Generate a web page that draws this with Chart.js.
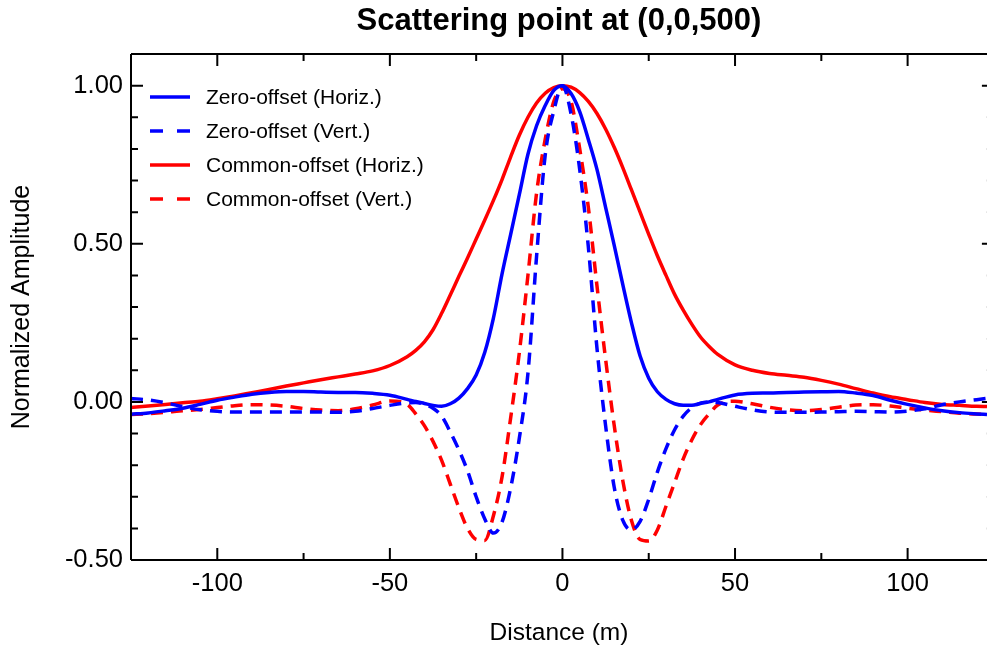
<!DOCTYPE html>
<html>
<head>
<meta charset="utf-8">
<script src="https://cdn.jsdelivr.net/npm/chart.js@4/dist/chart.umd.min.js"></script>
<style>
  html, body { margin: 0; padding: 0; background: #fff; overflow: hidden; }
  canvas { display: block; }
</style>
</head>
<body>
<canvas id="chart" width="987" height="650"></canvas>
<script>
const FONT = '"Liberation Sans", Arial, Helvetica, sans-serif';

// distance (m)
const distance = [
  -125, -120, -115, -110, -105, -100, -95, -90, -85, -80, -75, -70, -65, -60, -55, -50,
  -45, -42.5, -40, -37.5, -35, -32.5, -30, -27.5, -25, -22.5, -20, -17.5, -15, -12.5, -10, -7.5, -5, -2.5,
  0, 2.5, 5, 7.5, 10, 12.5, 15, 17.5, 20, 22.5, 25, 27.5, 30, 32.5, 35, 37.5, 40, 42.5, 45,
  50, 55, 60, 65, 70, 75, 80, 85, 90, 95, 100, 105, 110, 115, 120, 123,
];

const zoHoriz = [
  -0.039, -0.035, -0.028, -0.020, -0.008, 0.005, 0.015, 0.024, 0.030, 0.033, 0.033, 0.031, 0.030, 0.030, 0.027, 0.021,
  0.008, 0.001, -0.005, -0.011, -0.014, -0.006, 0.012, 0.042, 0.085, 0.157, 0.265, 0.405, 0.530, 0.655, 0.783, 0.873, 0.937, 0.985,
  1.000, 0.975, 0.918, 0.830, 0.735, 0.615, 0.495, 0.370, 0.250, 0.145, 0.075, 0.032, 0.008, -0.006, -0.011, -0.011, -0.005, 0.000, 0.008,
  0.022, 0.027, 0.028, 0.030, 0.031, 0.032, 0.033, 0.028, 0.020, 0.005, -0.008, -0.019, -0.028, -0.034, -0.038, -0.040,
];

const zoVert = [
  0.011, 0.006, -0.003, -0.015, -0.025, -0.030, -0.032, -0.032, -0.032, -0.032, -0.032, -0.032, -0.033, -0.030, -0.021, -0.011,
  -0.003, -0.002, -0.008, -0.020, -0.045, -0.095, -0.152, -0.218, -0.300, -0.370, -0.415, -0.380, -0.272, -0.115, 0.090, 0.460, 0.780, 0.920,
  1.000, 0.910, 0.735, 0.490, 0.170, -0.075, -0.270, -0.375, -0.405, -0.378, -0.308, -0.222, -0.148, -0.088, -0.045, -0.018, -0.004, 0.000, -0.002,
  -0.014, -0.025, -0.032, -0.033, -0.033, -0.032, -0.031, -0.030, -0.031, -0.032, -0.029, -0.022, -0.009, 0.000, 0.007, 0.011,
];

const coHoriz = [
  -0.018, -0.013, -0.008, -0.003, 0.002, 0.010, 0.019, 0.029, 0.039, 0.050, 0.060, 0.070, 0.079, 0.088, 0.098, 0.115,
  0.143, 0.163, 0.190, 0.228, 0.280, 0.338, 0.397, 0.455, 0.515, 0.575, 0.637, 0.703, 0.775, 0.843, 0.900, 0.945, 0.976, 0.994,
  1.000, 0.995, 0.978, 0.950, 0.912, 0.863, 0.805, 0.740, 0.670, 0.600, 0.530, 0.462, 0.400, 0.340, 0.290, 0.245, 0.205, 0.175, 0.150,
  0.117, 0.100, 0.090, 0.084, 0.078, 0.068, 0.056, 0.042, 0.028, 0.016, 0.007, -0.002, -0.008, -0.011, -0.014, -0.015,
];

const coVert = [
  -0.040, -0.037, -0.033, -0.028, -0.024, -0.018, -0.012, -0.009, -0.010, -0.014, -0.021, -0.026, -0.028, -0.022, -0.010, 0.003,
  -0.008, -0.038, -0.075, -0.125, -0.185, -0.260, -0.335, -0.400, -0.435, -0.438, -0.360, -0.237, -0.050, 0.155, 0.400, 0.660, 0.830, 0.950,
  0.990, 0.950, 0.800, 0.615, 0.367, 0.135, -0.075, -0.250, -0.375, -0.435, -0.440, -0.405, -0.330, -0.255, -0.180, -0.120, -0.072, -0.038, -0.010,
  0.002, -0.006, -0.017, -0.025, -0.028, -0.024, -0.017, -0.010, -0.009, -0.013, -0.020, -0.026, -0.031, -0.036, -0.038, -0.040,
];

const xMajor = [-100, -50, 0, 50, 100];
const xMinor = [-125, -75, -25, 25, 75, 125];
const yMajor = [-0.5, 0, 0.5, 1.0];
const yMinor = [-0.4, -0.3, -0.2, -0.1, 0.1, 0.2, 0.3, 0.4, 0.6, 0.7, 0.8, 0.9];

const BLUE = '#0000ff';
const RED = '#ff0000';

function series(label, values, color, dashed) {
  return {
    label,
    data: distance.map((d, i) => ({ x: d, y: values[i] })),
    borderColor: color,
    backgroundColor: color,
    borderWidth: 3.5,
    borderDash: dashed ? [12, 8] : [],
    pointRadius: 0,
    cubicInterpolationMode: 'monotone',
    fill: false,
  };
}

// axes frame with inward ticks on all four sides
const frameTicks = {
  id: 'frameTicks',
  afterDatasetsDraw(chart) {
    const { ctx, chartArea: a, scales: { x, y } } = chart;
    const right = x.getPixelForValue(125);
    ctx.save();
    ctx.strokeStyle = '#000';
    ctx.lineWidth = 2;
    ctx.setLineDash([]);
    ctx.beginPath();
    ctx.moveTo(a.left, a.top); ctx.lineTo(right, a.top);
    ctx.moveTo(a.left, a.bottom); ctx.lineTo(right, a.bottom);
    ctx.moveTo(a.left, a.top); ctx.lineTo(a.left, a.bottom);
    ctx.moveTo(right, a.top); ctx.lineTo(right, a.bottom);
    const xt = (v, len) => {
      const px = x.getPixelForValue(v);
      ctx.moveTo(px, a.bottom); ctx.lineTo(px, a.bottom - len);
      ctx.moveTo(px, a.top); ctx.lineTo(px, a.top + len);
    };
    const yt = (v, len) => {
      const py = y.getPixelForValue(v);
      ctx.moveTo(a.left, py); ctx.lineTo(a.left + len, py);
      ctx.moveTo(right, py); ctx.lineTo(right - len, py);
    };
    xMajor.forEach(v => xt(v, 12));
    xMinor.forEach(v => xt(v, 7));
    yMajor.forEach(v => yt(v, 12));
    yMinor.forEach(v => yt(v, 7));
    ctx.stroke();
    ctx.restore();
  },
};

// legend drawn inside the plot, top left
const insideLegend = {
  id: 'insideLegend',
  afterDraw(chart) {
    const { ctx, chartArea: a } = chart;
    ctx.save();
    ctx.font = '21px ' + FONT;
    ctx.textBaseline = 'middle';
    chart.data.datasets.forEach((ds, i) => {
      const yy = a.top + 43 + i * 34;
      ctx.strokeStyle = ds.borderColor;
      ctx.lineWidth = ds.borderWidth;
      ctx.setLineDash(ds.borderDash.length ? [13, 14] : []);
      ctx.beginPath();
      ctx.moveTo(a.left + 19, yy);
      ctx.lineTo(a.left + 59, yy);
      ctx.stroke();
      ctx.fillStyle = '#000';
      ctx.fillText(ds.label, a.left + 75, yy + 1);
    });
    ctx.restore();
  },
};

new Chart(document.getElementById('chart'), {
  type: 'line',
  data: {
    datasets: [
      series('Zero-offset (Horiz.)', zoHoriz, BLUE, false),
      series('Zero-offset (Vert.)', zoVert, BLUE, true),
      series('Common-offset (Horiz.)', coHoriz, RED, false),
      series('Common-offset (Vert.)', coVert, RED, true),
    ],
  },
  options: {
    responsive: false,
    animation: false,
    layout: { padding: 0 },
    plugins: {
      legend: { display: false },
      tooltip: { enabled: false },
      title: {
        display: true,
        fullSize: false,
        text: 'Scattering point at (0,0,500)',
        color: '#000',
        font: { family: FONT, size: 31, weight: 'bold', lineHeight: 1 },
        padding: { top: 6, bottom: 17 },
      },
    },
    scales: {
      x: {
        type: 'linear',
        min: -125,
        max: 123,
        afterBuildTicks(scale) { scale.ticks = xMajor.map(v => ({ value: v })); },
        afterFit(scale) { scale.height = 90; },
        grid: { display: false, drawTicks: false },
        border: { display: false },
        ticks: { color: '#000', padding: 9, maxRotation: 0, font: { family: FONT, size: 25.5 } },
        title: {
          display: true,
          text: 'Distance (m)',
          color: '#000',
          font: { family: FONT, size: 24.5 },
          padding: { top: 0, bottom: 2 },
        },
      },
      y: {
        min: -0.5,
        max: 1.1,
        afterBuildTicks(scale) { scale.ticks = yMajor.map(v => ({ value: v })); },
        afterFit(scale) { scale.width = 131; },
        grid: { display: false, drawTicks: false },
        border: { display: false },
        ticks: {
          color: '#000',
          padding: 8,
          font: { family: FONT, size: 25.5 },
          callback: v => v.toFixed(2),
        },
        title: {
          display: true,
          text: 'Normalized Amplitude',
          color: '#000',
          font: { family: FONT, size: 25 },
          padding: { top: 7, bottom: 0 },
        },
      },
    },
  },
  plugins: [frameTicks, insideLegend],
});
</script>
</body>
</html>
